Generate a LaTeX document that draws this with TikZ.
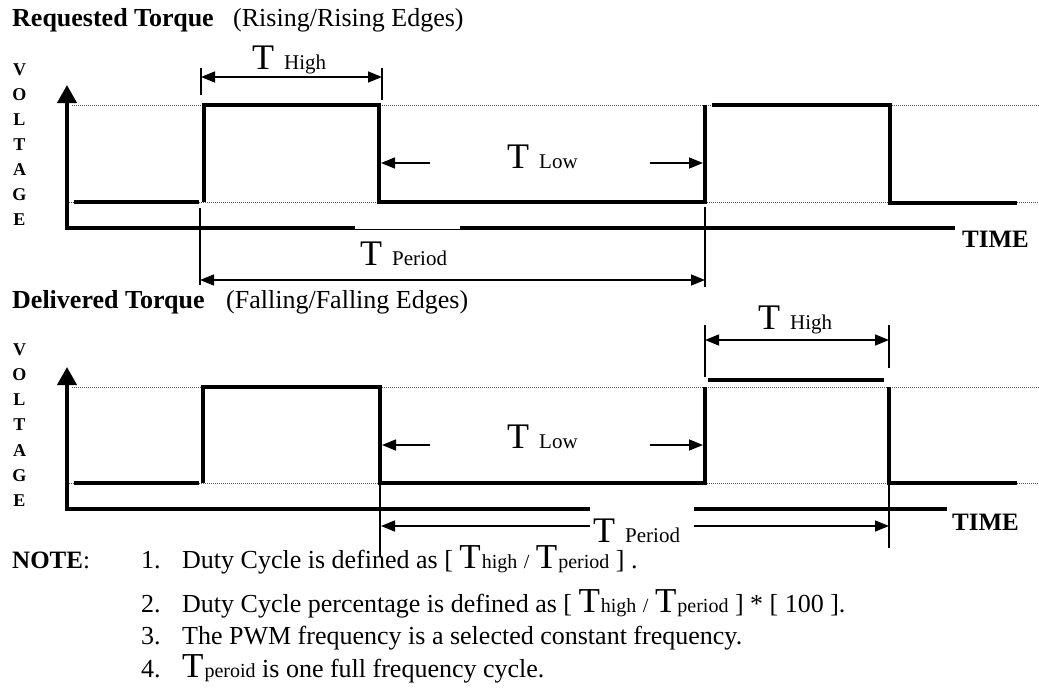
\documentclass[tikz,border=0pt]{standalone}
\usepackage{fontspec}
\setmainfont{Liberation Serif}
\usetikzlibrary{arrows.meta}
\newcommand{\fsz}[1]{\fontsize{#1}{#1}\selectfont}
\newcommand{\dimlab}[1]{{\fsz{36}T}\hspace{10pt}{\fsz{21}#1}}
\newcommand{\nT}[1]{{\fsz{35}T}\hspace{1pt}{\fsz{20}#1}}
\begin{document}
\begin{tikzpicture}[x=1pt,y=-1pt,
  sig/.style={line width=4pt, line join=miter},
  axisline/.style={line width=4pt, line join=miter},
  axisarrow/.style={line width=4pt, line join=miter, -{Triangle[length=18pt,width=19pt]}},
  tickline/.style={line width=1.5pt},
  dimboth/.style={line width=1.5pt, {Triangle[length=14pt,width=11pt]}-{Triangle[length=14pt,width=11pt]}},
  dimone/.style={line width=1.5pt, -{Triangle[length=14pt,width=11pt]}},
  guide/.style={line width=0.8pt, gray!70!black, dash pattern=on 1pt off 1pt},
  lbl/.style={anchor=base west, inner sep=0pt},
  vlet/.style={anchor=base, inner sep=0pt, font=\fsz{18}\bfseries},
  timelbl/.style={anchor=base west, inner sep=0pt, font=\fsz{25}\bfseries}
]
\useasboundingbox (0,0) rectangle (1039,693);

% ================= TOP DIAGRAM =================
\node[lbl] (title1) at (12,27) {\fsz{26}\textbf{Requested Torque}};
\node[lbl] (sub1) at (233,27) {\fsz{26}(Rising/Rising Edges)};
\foreach \l [count=\i] in {V,O,L,T,A,G,E}
  \node[vlet] (vt\i) at (19.5,50+25*\i) {\l};

% guides
\draw[guide] (72,105) -- (1039,105);
\draw[guide] (67,202) -- (1039,202);

% axes
\draw[axisarrow] (355,228) -- (67,228) -- (67,85);
\draw[line width=1.5pt] (355,229.5) -- (460,229.5);
\draw[axisline] (460,228) -- (955,228);
\node[timelbl] (time1) at (962,247) {TIME};

% signal
\draw[sig] (74,202) -- (199,202);
\draw[sig] (204,202) -- (204,105) -- (379,105) -- (379,202) -- (705,202) -- (705,105);
\draw[sig] (712,105) -- (890,105) -- (890,203) -- (1017,203);

% T High
\coordinate (th1a) at (201,77);
\coordinate (th1b) at (382,77);
\draw[tickline] (201,68) -- (201,95);
\draw[tickline] (382,68) -- (382,100);
\draw[dimboth] (th1a) -- (th1b);
\node[lbl] (thl1) at (252,70) {\dimlab{High}};

% T Low
\coordinate (tl1a) at (430,163);
\coordinate (tl1b) at (381,163);
\coordinate (tl1c) at (650,163);
\coordinate (tl1d) at (703,163);
\draw[dimone] (tl1a) -- (tl1b);
\draw[dimone] (tl1c) -- (tl1d);
\node[lbl] (tll1) at (507,168) {\dimlab{Low}};

% T Period
\coordinate (tp1a) at (200,280);
\coordinate (tp1b) at (705,280);
\draw[tickline] (200,208) -- (200,285);
\draw[tickline] (705,207) -- (705,287);
\draw[dimboth] (tp1a) -- (tp1b);
\node[lbl] (tpl1) at (360,265) {\dimlab{Period}};

% ================= BOTTOM DIAGRAM =================
\node[lbl] (title2) at (12,308) {\fsz{26}\textbf{Delivered Torque}};
\node[lbl] (sub2) at (226,308) {\fsz{26}(Falling/Falling Edges)};
\foreach \l [count=\i] in {V,O,L,T,A,G,E}
  \node[vlet] (vb\i) at (19.5,330+25.2*\i) {\l};

\draw[guide] (72,387) -- (1039,387);
\draw[guide] (67,483) -- (1039,483);

\draw[axisarrow] (590,509) -- (67,509) -- (67,367);
\draw[axisline] (694,509) -- (947,509);
\node[timelbl] (time2) at (952,530) {TIME};

\draw[sig] (74,483) -- (199,483);
\draw[sig] (203,483) -- (203,387) -- (380,387) -- (380,483) -- (705,483) -- (705,387);
\draw[sig] (708,380) -- (884,380);
\draw[sig] (889,387) -- (889,483) -- (1017,483);

% T High
\coordinate (th2a) at (705,340);
\coordinate (th2b) at (889,340);
\draw[tickline] (705,325) -- (705,377);
\draw[tickline] (889,325) -- (889,368);
\draw[dimboth] (th2a) -- (th2b);
\node[lbl] (thl2) at (758,329) {\dimlab{High}};

% T Low
\coordinate (tl2a) at (430,445);
\coordinate (tl2b) at (382,445);
\coordinate (tl2c) at (650,445);
\coordinate (tl2d) at (703,445);
\draw[dimone] (tl2a) -- (tl2b);
\draw[dimone] (tl2c) -- (tl2d);
\node[lbl] (tll2) at (507,448) {\dimlab{Low}};

% T Period
\coordinate (tp2a) at (590,526);
\coordinate (tp2b) at (381,526);
\coordinate (tp2c) at (694,526);
\coordinate (tp2d) at (889,526);
\draw[tickline] (380,483) -- (380,557);
\draw[tickline] (889,483) -- (889,548);
\draw[dimone] (tp2a) -- (tp2b);
\draw[dimone] (tp2c) -- (tp2d);
\node[lbl] (tpl2) at (593,542) {\dimlab{Period}};

% ================= NOTES =================
\node[lbl] (note) at (12,568) {\fsz{25}\textbf{NOTE}:};
\node[lbl] (n1) at (141,568) {\fsz{26}1.};
\node[lbl] (t1) at (182,568) {\fsz{26}Duty Cycle is defined as [ \nT{high} {\fsz{20}/} \nT{period} ] .};
\node[lbl] (n2) at (141,612) {\fsz{26}2.};
\node[lbl] (t2) at (182,612) {\fsz{26}Duty Cycle percentage is defined as [ \nT{high} {\fsz{20}/} \nT{period} ] * [ 100 ].};
\node[lbl] (n3) at (141,644) {\fsz{26}3.};
\node[lbl] (t3) at (182,644) {\fsz{26}The PWM frequency is a selected constant frequency.};
\node[lbl] (n4) at (141,677) {\fsz{26}4.};
\node[lbl] (t4) at (182,677) {\fsz{26}\nT{peroid} is one full frequency cycle.};
\end{tikzpicture}
\end{document}
